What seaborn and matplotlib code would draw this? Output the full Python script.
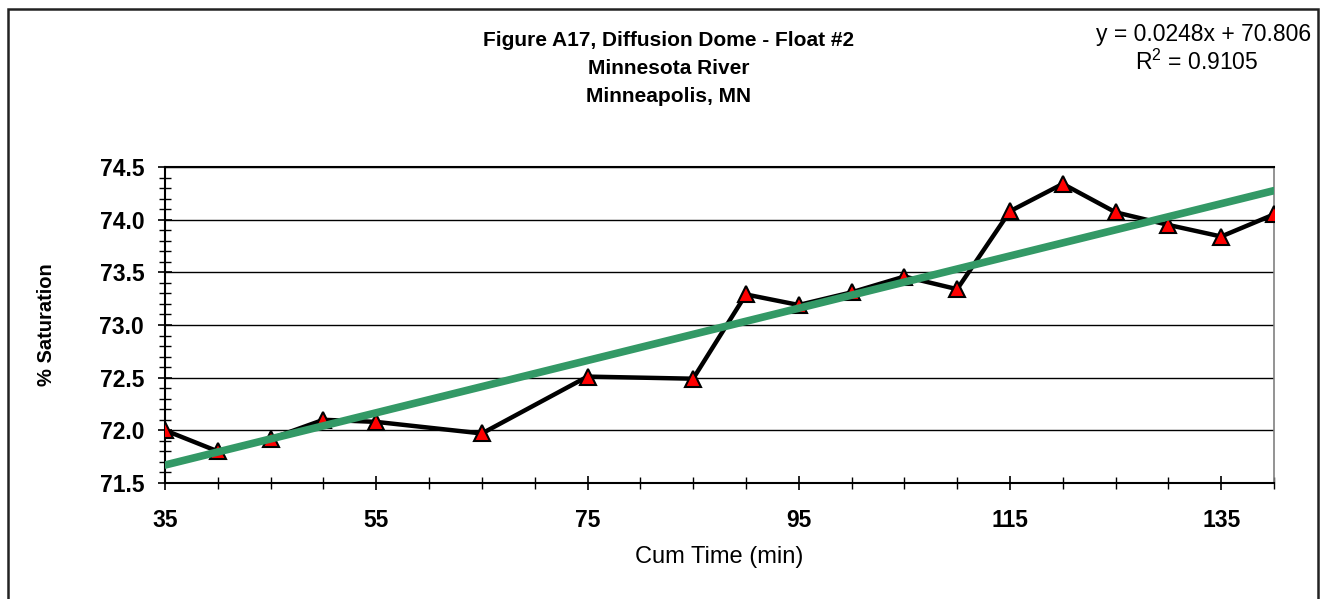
import matplotlib
matplotlib.use("Agg")
import matplotlib.pyplot as plt
from matplotlib.ticker import MultipleLocator, FormatStrFormatter
from matplotlib.patches import Rectangle
import seaborn as sns
import pandas as pd
import numpy as np

cum_time = [35, 40, 45, 50, 55, 65, 75, 85, 90, 95, 100, 105, 110, 115, 120, 125, 130, 135, 140]
saturation = [72.0, 71.8, 71.92, 72.1, 72.08, 71.97, 72.51, 72.49, 73.29, 73.19, 73.31, 73.46,
              73.34, 74.08, 74.34, 74.07, 73.95, 73.84, 74.05]
title_lines = ["Figure A17, Diffusion Dome - Float #2", "Minnesota River", "Minneapolis, MN"]
eq_text = "y = 0.0248x + 70.806"
r2_text = "R$^2$ = 0.9105"

df = pd.DataFrame({"t": cum_time, "s": saturation})

sns.set_style("white")
plt.rcParams['font.family'] = ['Liberation Sans', 'DejaVu Sans']
plt.rcParams['mathtext.fontset'] = 'custom'
plt.rcParams['mathtext.rm'] = 'Liberation Sans'
plt.rcParams['text.color'] = 'black'
plt.rcParams['axes.labelcolor'] = 'black'
plt.rcParams['xtick.color'] = 'black'
plt.rcParams['ytick.color'] = 'black'

fig = plt.figure(figsize=(13.29, 5.99), dpi=100)
ax = fig.add_axes([0.1242, 0.1937, 0.8344, 0.5275])

# figure frame (bottom edge lies outside the image)
fig.patches.append(Rectangle((8/1329, -0.05), (1318-8)/1329, 1.05 - 9/599,
                             transform=fig.transFigure, fill=False,
                             edgecolor='#222222', linewidth=1.8))

ax.yaxis.grid(True, color='black', linewidth=1.0)
ax.set_axisbelow(True)

sns.lineplot(data=df, x="t", y="s", ax=ax, color='black', linewidth=3.2, marker='^',
             markersize=11, markerfacecolor='#ff0000', markeredgecolor='black',
             markeredgewidth=1.5, zorder=3)
sns.regplot(data=df, x="t", y="s", ax=ax, scatter=False, ci=None, truncate=True,
            line_kws=dict(color='#339966', linewidth=5.5, zorder=4))

ax.set_xlim(35, 140)
ax.set_ylim(71.5, 74.5)
ax.xaxis.set_minor_locator(MultipleLocator(5))
ax.yaxis.set_major_locator(MultipleLocator(0.5))
ax.yaxis.set_minor_locator(MultipleLocator(0.1))
ax.yaxis.set_major_formatter(FormatStrFormatter('%.1f'))
ax.set_xticks(np.arange(35, 140, 20))

ax.tick_params(axis='both', which='major', direction='inout', length=10, width=1.2,
               labelsize=16.5, colors='black', pad=10, bottom=True, left=True)
ax.tick_params(axis='both', which='minor', direction='inout', length=8, width=1.0,
               colors='black', bottom=True, left=True)
ax.tick_params(axis='x', which='major', pad=14)
for lbl in ax.get_xticklabels() + ax.get_yticklabels():
    lbl.set_fontweight('bold')

for side in ['left', 'bottom', 'top']:
    ax.spines[side].set_color('black')
    ax.spines[side].set_linewidth(1.5)
ax.spines['right'].set_color('#808080')
ax.spines['right'].set_linewidth(1.2)

ax.set_xlabel("Cum Time (min)", fontsize=17, labelpad=10, color='black')
ax.set_ylabel("% Saturation", fontsize=14.5, fontweight='bold', labelpad=31, color='black')

ys = [41, 69, 97]
for line, y in zip(title_lines, ys):
    fig.text(669/1329, 1 - y/599, line, ha='center', va='center', fontsize=15,
             fontweight='bold', color='black')

fig.text(1311/1329, 1 - 34/599, eq_text, ha='right', va='center', fontsize=16.5, color='black')
fig.text(1197/1329, 1 - 62/599, r2_text, ha='center', va='center', fontsize=16.5, color='black')

fig.savefig("out.png", dpi=100)
